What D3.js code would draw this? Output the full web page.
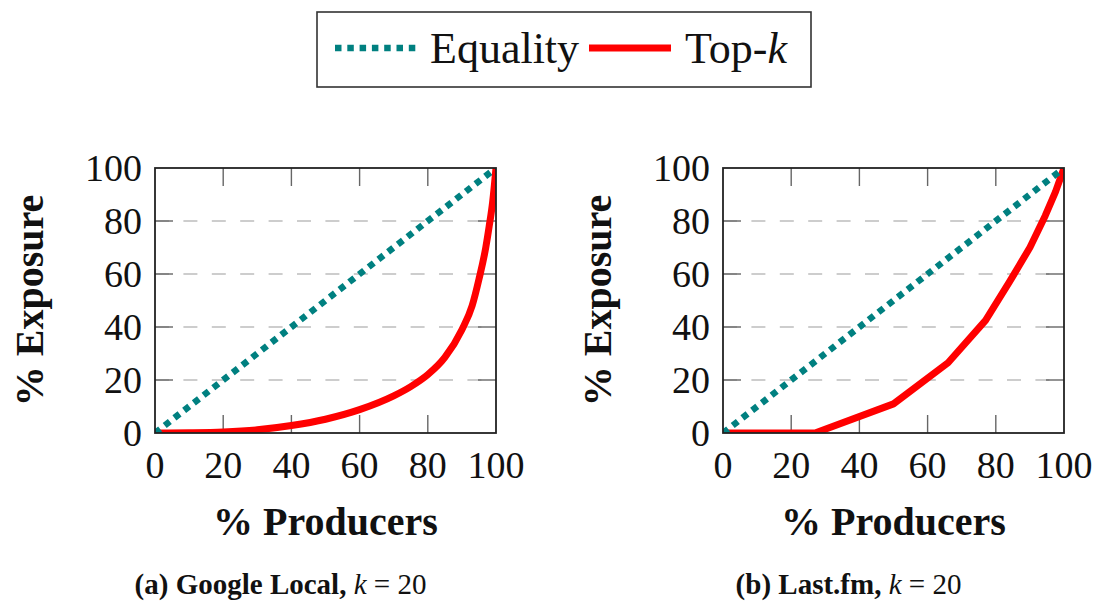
<!DOCTYPE html>
<html>
<head>
<meta charset="utf-8">
<script src="https://cdn.jsdelivr.net/npm/d3@7"></script>
<style>
  html, body { margin: 0; padding: 0; background: #fff; }
  svg { display: block; }
  text { font-family: "Liberation Serif", "DejaVu Serif", serif; fill: #111; }
</style>
</head>
<body>
<svg id="chart" width="1095" height="603"></svg>
<script>
// Share of exposure held by the bottom x% of producers (Lorenz curves)
const xTicks = [0, 20, 40, 60, 80, 100];
const yTicks = [0, 20, 40, 60, 80, 100];

const equalityX = [0, 100];
const equalityY = [0, 100];

// Google Local, k = 20
const googleX = [0, 10, 20, 30, 40, 50, 60, 70, 75, 80, 85, 90, 93, 95, 97, 98, 99, 100];
const googleY = [0, 0.1, 0.4, 1.2, 2.8, 5.2, 8.8, 14, 17.5, 22, 28.5, 39, 48, 58, 70, 78, 87, 100];

// Last.fm, k = 20
const lastfmX = [0, 27, 50, 66, 77, 84, 90, 94.5, 97.5, 100];
const lastfmY = [0, 0, 11, 26.5, 42.5, 57, 70, 82, 91, 100];

const panels = [
  { id: "a", left: 155, xs: googleX, ys: googleY, smooth: true,
    captionBold: "(a) Google Local,", captionRest: " = 20" },
  { id: "b", left: 723, xs: lastfmX, ys: lastfmY, smooth: false,
    captionBold: "(b) Last.fm,", captionRest: " = 20" }
];

const svg = d3.select("#chart");
const plotW = 341, plotH = 265, plotTop = 168;
const TEAL = "#008080", RED = "#ff0000";

// Legend
const legend = svg.append("g");
legend.append("rect").attr("x", 317).attr("y", 12).attr("width", 494).attr("height", 75)
  .attr("fill", "#fff").attr("stroke", "#333").attr("stroke-width", 1.6);
legend.append("line").attr("x1", 335).attr("x2", 418).attr("y1", 48).attr("y2", 48)
  .attr("stroke", TEAL).attr("stroke-width", 6.5).attr("stroke-dasharray", "6.5 5.8");
legend.append("text").attr("x", 430).attr("y", 63).attr("font-size", 44).text("Equality");
legend.append("line").attr("x1", 589).attr("x2", 671).attr("y1", 48).attr("y2", 48)
  .attr("stroke", RED).attr("stroke-width", 7);
const topk = legend.append("text").attr("x", 685).attr("y", 63).attr("font-size", 44);
topk.append("tspan").text("Top-");
topk.append("tspan").attr("font-style", "italic").text("k");

panels.forEach(p => {
  const x = d3.scaleLinear().domain([0, 100]).range([p.left, p.left + plotW]);
  const y = d3.scaleLinear().domain([0, 100]).range([plotTop + plotH, plotTop]);
  const g = svg.append("g");

  const clipId = "clip-" + p.id;
  g.append("clipPath").attr("id", clipId).append("rect")
    .attr("x", p.left).attr("y", plotTop).attr("width", plotW).attr("height", plotH);

  // Dashed horizontal grid
  g.append("g").selectAll("line").data(yTicks.slice(1, -1)).join("line")
    .attr("x1", p.left).attr("x2", p.left + plotW)
    .attr("y1", d => y(d)).attr("y2", d => y(d))
    .attr("stroke", "#bdbdbd").attr("stroke-width", 1.5).attr("stroke-dasharray", "14 14.4");

  // Inner ticks on all four sides
  const tl = 18;
  const tickStyle = sel => sel.attr("stroke", "#666").attr("stroke-width", 1.4);
  g.append("g").selectAll("line").data(xTicks.slice(1, -1)).join("line")
    .attr("x1", d => x(d)).attr("x2", d => x(d)).attr("y1", plotTop).attr("y2", plotTop + tl)
    .call(tickStyle);
  g.append("g").selectAll("line").data(xTicks.slice(1, -1)).join("line")
    .attr("x1", d => x(d)).attr("x2", d => x(d)).attr("y1", plotTop + plotH).attr("y2", plotTop + plotH - tl)
    .call(tickStyle);
  g.append("g").selectAll("line").data(yTicks.slice(1, -1)).join("line")
    .attr("x1", p.left).attr("x2", p.left + tl).attr("y1", d => y(d)).attr("y2", d => y(d))
    .call(tickStyle);
  g.append("g").selectAll("line").data(yTicks.slice(1, -1)).join("line")
    .attr("x1", p.left + plotW).attr("x2", p.left + plotW - tl).attr("y1", d => y(d)).attr("y2", d => y(d))
    .call(tickStyle);

  // Tick labels
  g.append("g").selectAll("text").data(xTicks).join("text")
    .attr("x", d => x(d)).attr("y", 478).attr("text-anchor", "middle")
    .attr("font-size", 38).text(d => d);
  g.append("g").selectAll("text").data(yTicks).join("text")
    .attr("x", p.left - 13).attr("y", d => y(d) + 13).attr("text-anchor", "end")
    .attr("font-size", 38).text(d => d);

  // Series
  const lineGen = d3.line().x(d => x(d[0])).y(d => y(d[1]))
    .curve(p.smooth ? d3.curveMonotoneX : d3.curveLinear);
  const plot = g.append("g").attr("clip-path", `url(#${clipId})`);
  plot.append("path").datum(d3.zip(p.xs, p.ys)).attr("d", lineGen)
    .attr("fill", "none").attr("stroke", RED).attr("stroke-width", 7).attr("stroke-linejoin", "round");
  plot.append("path").datum(d3.zip(equalityX, equalityY)).attr("d", lineGen)
    .attr("fill", "none").attr("stroke", TEAL).attr("stroke-width", 6.5)
    .attr("stroke-dasharray", "6.5 5.8");

  // Frame
  g.append("rect").attr("x", p.left).attr("y", plotTop).attr("width", plotW).attr("height", plotH)
    .attr("fill", "none").attr("stroke", "#222").attr("stroke-width", 1.8);

  // Axis titles
  g.append("text").attr("x", x(50)).attr("y", 535).attr("text-anchor", "middle")
    .attr("font-size", 40).attr("font-weight", "bold").text("% Producers");
  g.append("text").attr("transform", `translate(${p.left - 112},${y(50)}) rotate(-90)`)
    .attr("text-anchor", "middle").attr("font-size", 40).attr("font-weight", "bold").text("% Exposure");

  // Caption
  const cap = g.append("text").attr("x", x(50) - 45).attr("y", 594).attr("text-anchor", "middle")
    .attr("font-size", 29);
  cap.append("tspan").attr("font-weight", "bold").text(p.captionBold);
  cap.append("tspan").text(" ");
  cap.append("tspan").attr("font-style", "italic").text("k");
  cap.append("tspan").text(p.captionRest);
});
</script>
</body>
</html>
